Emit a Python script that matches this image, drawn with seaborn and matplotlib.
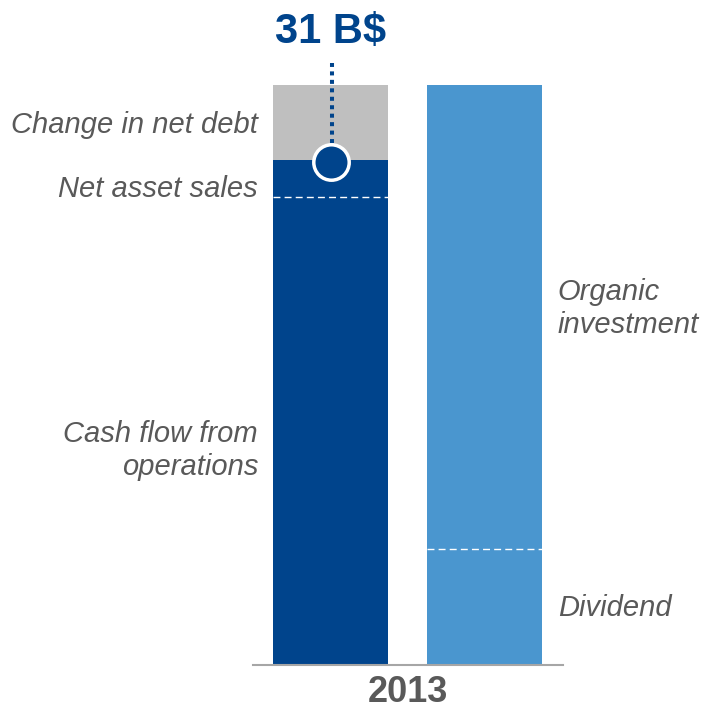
import matplotlib
matplotlib.use("Agg")
import matplotlib.pyplot as plt
import seaborn as sns

# Sources and uses of cash, 2013 (B$)
categories = ["Sources", "Uses"]
source_labels = ["Cash flow from\noperations", "Net asset sales", "Change in net debt"]
source_values = [25.0, 2.0, 4.0]
use_labels = ["Dividend", "Organic\ninvestment"]
use_values = [6.2, 24.8]
total_label = "31 B$"
total_value = 31.0
year_label = "2013"

DARK_BLUE = "#00448C"
GREY_FILL = "#BFBFBF"
LIGHT_BLUE = "#4A96CF"
TEXT_GREY = "#595959"
AXIS_GREY = "#A6A6A6"

sns.set_style("white")
plt.rcParams["font.family"] = ["Liberation Sans", "DejaVu Sans"]

W, H = 704, 711
fig = plt.figure(figsize=(W / 100, H / 100), dpi=100)
ax = fig.add_axes([253 / W, 46 / H, 310 / W, 645 / H])

BAR_W = 0.75
source_colors = [DARK_BLUE, DARK_BLUE, GREY_FILL]
use_colors = [LIGHT_BLUE, LIGHT_BLUE]

# stacked segments, one barplot call per segment
bottom = 0.0
for val, col in zip(source_values, source_colors):
    sns.barplot(x=[categories[0]], y=[val], order=categories, color=col,
                saturation=1, width=BAR_W, bottom=bottom, linewidth=0,
                ax=ax)
    bottom += val
bottom = 0.0
for val, col in zip(use_values, use_colors):
    sns.barplot(x=[categories[1]], y=[val], order=categories, color=col,
                saturation=1, width=BAR_W, bottom=bottom, linewidth=0,
                ax=ax)
    bottom += val

# dashed white separators inside the bars
ax.hlines(source_values[0], -BAR_W / 2, BAR_W / 2, colors="white",
          linestyles=(0, (5, 3)), lw=1.0, zorder=3)
ax.hlines(use_values[0], 1 - BAR_W / 2, 1 + BAR_W / 2, colors="white",
          linestyles=(0, (5, 3)), lw=1.0, zorder=3)

# marker on the net-debt boundary with dotted leader to the total
marker_y = source_values[0] + source_values[1]
ax.plot([0.01, 0.01], [marker_y, total_value * 1.038], color=DARK_BLUE, lw=2.9,
        linestyle=(0, (1, 1.1)), zorder=4, clip_on=False)
ax.plot([0.005], [marker_y - 0.1], marker="o", markersize=25.5,
        markerfacecolor=DARK_BLUE, markeredgecolor="white",
        markeredgewidth=2.5, zorder=5, clip_on=False)

ax.text(0, 33.22, total_label, ha="center", va="baseline", fontsize=30,
        fontweight="bold", color=DARK_BLUE)
ax.text(0.5, -2.0, year_label, ha="center", va="baseline", fontsize=26,
        fontweight="bold", color=TEXT_GREY)

# segment labels (baseline of the last line)
lab_kw = dict(fontsize=21, style="italic", color=TEXT_GREY, va="baseline",
              linespacing=1.22)
left_y = [10.15, 25.01, 28.42]
for lab, y in zip(source_labels, left_y):
    ax.text(-0.47, y, lab, ha="right", multialignment="right", **lab_kw)
right_y = [2.62, 17.73]
for lab, y in zip(use_labels, right_y):
    ax.text(1.477, y, lab, ha="left", multialignment="left", **lab_kw)

ax.set_xlim(-0.503, 1.51)
ax.set_ylim(0, 645 / 18.71)
ax.set_xticks([])
ax.set_yticks([])
ax.set_xlabel("")
ax.set_ylabel("")
for side in ["top", "left", "right"]:
    ax.spines[side].set_visible(False)
ax.spines["bottom"].set_color(AXIS_GREY)
ax.spines["bottom"].set_linewidth(1.5)
ax.spines["bottom"].set_zorder(6)

fig.savefig("out.png", dpi=100)
